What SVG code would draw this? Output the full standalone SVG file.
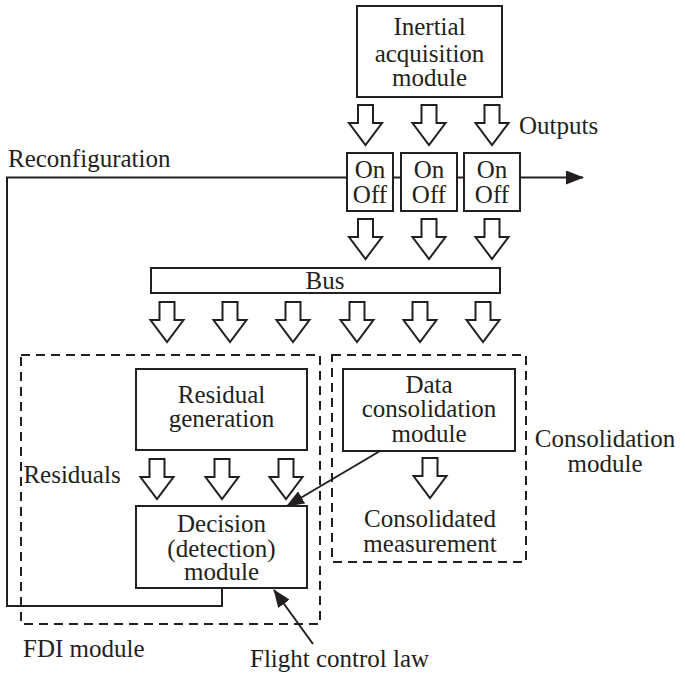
<svg xmlns="http://www.w3.org/2000/svg" width="685" height="675" viewBox="0 0 685 675">
<style>
text{font-family:"Liberation Serif",serif;font-size:25px;fill:#231f20;text-anchor:middle}
.box{fill:#fff;stroke:#231f20;stroke-width:2}
.dash{fill:none;stroke:#231f20;stroke-width:2;stroke-dasharray:9,6}
.ln{fill:none;stroke:#231f20;stroke-width:2}
.ha{fill:#fff;stroke:#231f20;stroke-width:2;stroke-linejoin:miter}
.l{text-anchor:start}
</style>
<defs>
<path id="ha" d="M-7.5,0 H7.5 V18 H16.5 L0,40 L-16.5,18 H-7.5 Z"/>
<marker id="ah" markerWidth="18" markerHeight="14" refX="17" refY="7" orient="auto" markerUnits="userSpaceOnUse">
<path d="M0,0 L18,7 L0,14 Z" fill="#231f20"/>
</marker>
</defs>
<rect width="685" height="675" fill="#fff"/>
<g id="connectors">
<polyline class="ln" points="347,177.5 7,177.5 7,606 222,606 222,588"/>
<line class="ln" x1="393" y1="177.5" x2="401" y2="177.5"/>
<line class="ln" x1="457" y1="177.5" x2="464" y2="177.5"/>
<line class="ln" x1="520" y1="177.5" x2="583" y2="177.5" marker-end="url(#ah)"/>
<line class="ln" x1="380" y1="451" x2="287" y2="506" marker-end="url(#ah)"/>
<line class="ln" x1="313" y1="644" x2="274" y2="590" marker-end="url(#ah)"/>
<g class="ha">
<use href="#ha" x="365.5" y="105"/><use href="#ha" x="429" y="105"/><use href="#ha" x="492" y="105"/>
<use href="#ha" x="365.5" y="219"/><use href="#ha" x="429" y="219"/><use href="#ha" x="492" y="219"/>
<use href="#ha" x="167" y="302"/><use href="#ha" x="230" y="302"/><use href="#ha" x="293" y="302"/>
<use href="#ha" x="357" y="302"/><use href="#ha" x="420" y="302"/><use href="#ha" x="483" y="302"/>
<use href="#ha" x="157" y="459"/><use href="#ha" x="222" y="459"/><use href="#ha" x="286" y="459"/>
<use href="#ha" x="430" y="458"/>
</g>
</g>
<g id="fdi-module">
<rect class="dash" x="21" y="355" width="299" height="269"/>
<text class="l" x="23" y="657">FDI module</text>
</g>
<g id="consolidation-module">
<rect class="dash" x="332" y="355" width="194" height="207"/>
<text x="605" y="447">Consolidation</text>
<text x="605" y="472">module</text>
</g>
<g id="inertial">
<rect class="box" x="357" y="6" width="145" height="91"/>
<text x="429.5" y="35">Inertial</text>
<text x="429.5" y="62">acquisition</text>
<text x="429.5" y="86">module</text>
</g>
<text class="l" x="519" y="134">Outputs</text>
<text class="l" x="8" y="167">Reconfiguration</text>
<g id="sw1"><rect class="box" x="347" y="153" width="46" height="58"/><text x="370" y="178">On</text><text x="370" y="203">Off</text></g>
<g id="sw2"><rect class="box" x="401" y="153" width="56" height="58"/><text x="429" y="178">On</text><text x="429" y="203">Off</text></g>
<g id="sw3"><rect class="box" x="464" y="153" width="56" height="58"/><text x="492" y="178">On</text><text x="492" y="203">Off</text></g>
<g id="bus">
<rect class="box" x="151" y="268" width="349" height="25"/>
<text x="325" y="289">Bus</text>
</g>
<g id="residual-generation">
<rect class="box" x="136" y="369" width="171" height="81"/>
<text x="221.5" y="403">Residual</text>
<text x="221.5" y="427">generation</text>
</g>
<text x="72" y="483">Residuals</text>
<g id="decision">
<rect class="box" x="136" y="506" width="171" height="82"/>
<text x="221.5" y="532">Decision</text>
<text x="221.5" y="557">(detection)</text>
<text x="221.5" y="580">module</text>
</g>
<g id="data-consolidation">
<rect class="box" x="343" y="369" width="172" height="82"/>
<text x="429" y="393">Data</text>
<text x="429" y="417">consolidation</text>
<text x="429" y="442">module</text>
</g>
<text x="430" y="527">Consolidated</text>
<text x="430" y="552">measurement</text>
<text class="l" x="250" y="667">Flight control law</text>
</svg>
